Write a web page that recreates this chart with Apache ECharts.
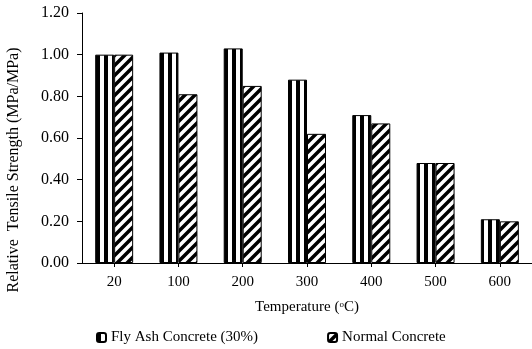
<!DOCTYPE html>
<html>
<head>
<meta charset="utf-8">
<script src="https://cdn.jsdelivr.net/npm/echarts@6/dist/echarts.min.js"></script>
<style>
  html, body { margin: 0; padding: 0; background: #fff; }
  #chart { width: 532px; height: 349px; }
</style>
</head>
<body>
<div id="chart"></div>
<script>
// temperatures on the x axis
const temperatures = ['20', '100', '200', '300', '400', '500', '600'];
// relative tensile strength
const flyAsh = [1.00, 1.01, 1.03, 0.88, 0.71, 0.48, 0.21];
const normalConcrete = [1.00, 0.81, 0.85, 0.62, 0.67, 0.48, 0.20];
const yTicks = [0, 0.2, 0.4, 0.6, 0.8, 1.0, 1.2];

const FONT = '"Liberation Serif", "Times New Roman", serif';

// vertical stripes like Excel's wide vertical pattern
function stripePattern() {
  const c = document.createElement('canvas');
  c.width = 8; c.height = 8;
  const ctx = c.getContext('2d');
  ctx.fillStyle = '#fff';
  ctx.fillRect(0, 0, 8, 8);
  ctx.fillStyle = '#000';
  ctx.fillRect(0, 0, 4, 8);
  return c;
}

// thick upward diagonal hatch
function hatchPattern() {
  const s = 10;
  const c = document.createElement('canvas');
  c.width = s; c.height = s;
  const ctx = c.getContext('2d');
  ctx.fillStyle = '#fff';
  ctx.fillRect(0, 0, s, s);
  ctx.strokeStyle = '#000';
  ctx.lineWidth = 3.5;
  ctx.beginPath();
  ctx.moveTo(0, s); ctx.lineTo(s, 0);
  ctx.moveTo(-s / 2, s / 2); ctx.lineTo(s / 2, -s / 2);
  ctx.moveTo(s / 2, s * 1.5); ctx.lineTo(s * 1.5, s / 2);
  ctx.stroke();
  return c;
}

const chart = echarts.init(document.getElementById('chart'));

chart.setOption({
  animation: false,
  backgroundColor: '#fff',
  textStyle: { fontFamily: FONT, color: '#000' },
  grid: { left: 82, right: -2, top: 13, bottom: 86 },
  legend: {
    bottom: -1,
    left: 91,
    itemWidth: 9,
    itemHeight: 9,
    itemGap: 69,
    textStyle: { fontFamily: FONT, fontSize: 15, color: '#000' },
    data: ['Fly Ash Concrete (30%)', 'Normal Concrete']
  },
  graphic: [{
    type: 'text',
    x: 14,
    y: 170,
    rotation: Math.PI / 2,
    style: {
      text: 'Relative  Tensile Strength (MPa/MPa)',
      font: '16px ' + FONT,
      fill: '#000',
      align: 'center',
      verticalAlign: 'middle'
    }
  }],
  xAxis: {
    type: 'category',
    data: temperatures,
    name: '{a|Temperature (}{s|o}{a|C)}',
    nameLocation: 'middle',
    nameGap: 37,
    nameTextStyle: {
      rich: {
        a: { fontFamily: FONT, fontSize: 15, color: '#000' },
        s: { fontFamily: FONT, fontSize: 9, color: '#000', verticalAlign: 'top', padding: [0, 0, 6, 0] }
      }
    },
    axisLine: { show: true, lineStyle: { color: '#000', width: 1 } },
    axisTick: { show: true, alignWithLabel: true, length: 4, lineStyle: { color: '#000', width: 1 } },
    axisLabel: { fontFamily: FONT, fontSize: 15, color: '#000', margin: 12 }
  },
  yAxis: {
    type: 'value',
    min: yTicks[0],
    max: yTicks[yTicks.length - 1],
    interval: 0.2,
    axisLine: { show: true, lineStyle: { color: '#000', width: 1 } },
    axisTick: { show: true, length: 5, lineStyle: { color: '#000', width: 1 } },
    splitLine: { show: false },
    axisLabel: {
      fontFamily: FONT, fontSize: 16, color: '#000', margin: 13,
      formatter: v => v.toFixed(2)
    }
  },
  series: [
    {
      name: 'Fly Ash Concrete (30%)',
      type: 'bar',
      data: flyAsh,
      barWidth: 19,
      barGap: '0%',
      itemStyle: {
        color: { image: stripePattern(), repeat: 'repeat' },
        borderColor: '#000',
        borderWidth: 1
      }
    },
    {
      name: 'Normal Concrete',
      type: 'bar',
      data: normalConcrete,
      barWidth: 19,
      barGap: '0%',
      itemStyle: {
        color: { image: hatchPattern(), repeat: 'repeat' },
        borderColor: '#000',
        borderWidth: 1
      }
    }
  ]
});
</script>
</body>
</html>
